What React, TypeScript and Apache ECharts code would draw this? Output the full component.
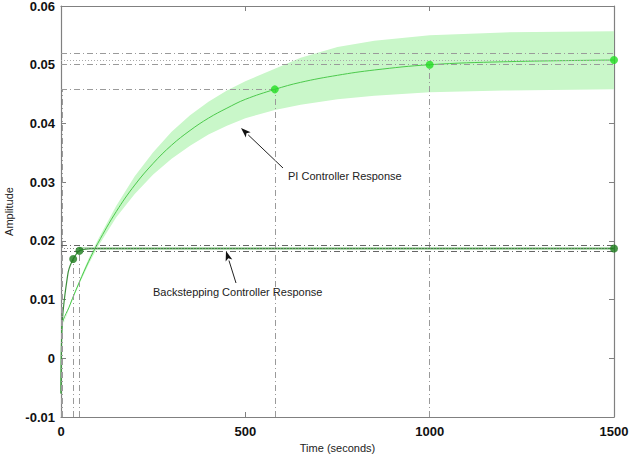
import React, { useEffect, useRef } from "react";
import * as echarts from "echarts";

// ---- data ----
const piTime = [0, 2, 25, 50, 75, 100, 150, 200, 250, 300, 350, 400, 450, 500, 580, 650, 750, 850, 1000, 1200, 1500];
const piValue = [-0.006, 0.005, 0.0092, 0.013, 0.0165, 0.0196, 0.025, 0.0295, 0.0332, 0.0363, 0.0388, 0.0409, 0.0426, 0.0441, 0.0458, 0.047, 0.0482, 0.0491, 0.05, 0.0505, 0.0508];
const piLower = [-0.006, 0.005, 0.009, 0.0127, 0.016, 0.019, 0.024, 0.028, 0.0313, 0.034, 0.0362, 0.0381, 0.0396, 0.0409, 0.0423, 0.0432, 0.0441, 0.0447, 0.0453, 0.0456, 0.0458];
const piUpper = [-0.006, 0.005, 0.0094, 0.0133, 0.017, 0.0202, 0.026, 0.031, 0.0351, 0.0386, 0.0414, 0.0437, 0.0456, 0.0472, 0.0493, 0.0512, 0.053, 0.0541, 0.055, 0.0555, 0.0557];

const bsTime = [0, 2, 5, 10, 15, 20, 25, 33, 40, 50, 60, 80, 100, 1500];
const bsValue = [-0.006, 0.004, 0.0075, 0.0105, 0.0128, 0.0148, 0.0158, 0.0169, 0.0176, 0.0183, 0.0185, 0.0187, 0.0187, 0.0187];
const bsSteadyTime = [50, 1500];
const bsSteadyValue = [0.0187, 0.0187];

const piMarkTime = [580, 1000, 1500];
const piMarkValue = [0.0458, 0.05, 0.0508];
const bsMarkTime = [33, 50, 1500];
const bsMarkValue = [0.0169, 0.0183, 0.0187];

// reference levels (settling band, steady state, rise time)
const piBandLevels = [0.052, 0.05];
const piSteady = 0.0508;
const piRiseLevel = 0.0458;
const piRiseTimes = [4, 580];
const piSettleTime = 1000;
const bsBandLevels = [0.0192, 0.0182];
const bsSteady = 0.0187;
const bsRiseTimes = [2, 33];
const bsSettleTime = 50;

const xTicks = [0, 500, 1000, 1500];
const yMin = -0.01;
const yMax = 0.06;

const DASHDOT = [6, 3, 1, 3];

function arrow(x1: number, y1: number, x2: number, y2: number) {
  const dx = x2 - x1;
  const dy = y2 - y1;
  const len = Math.sqrt(dx * dx + dy * dy);
  const ux = dx / len;
  const uy = dy / len;
  const hl = 10;
  const hw = 3.5;
  const bx = x2 - ux * hl;
  const by = y2 - uy * hl;
  const px = -uy;
  const py = ux;
  return [
    {
      type: "line",
      shape: { x1, y1, x2: bx, y2: by },
      style: { stroke: "#222", lineWidth: 1 },
      silent: true,
    },
    {
      type: "polygon",
      shape: {
        points: [
          [x2, y2],
          [bx + px * hw, by + py * hw],
          [bx + ux * 2.5, by + uy * 2.5],
          [bx - px * hw, by - py * hw],
        ],
      },
      style: { fill: "#111" },
      silent: true,
    },
  ];
}

export default function App() {
  const ref = useRef<HTMLDivElement>(null);

  useEffect(() => {
    if (!ref.current) return;
    const chart = echarts.init(ref.current, undefined, { renderer: "svg" });

    const seg = (a: number[], b: number[], color: string, dotted = false) => [
      { coord: a, lineStyle: { color, type: dotted ? [1, 2] : DASHDOT, width: 1 } },
      { coord: b },
    ];

    const piLines: any[] = [
      ...piBandLevels.map((v) => seg([0, v], [1500, v], "#9a9a9a")),
      seg([0, piSteady], [1500, piSteady], "#aaaaaa", true),
      seg([0, piRiseLevel], [piRiseTimes[1], piRiseLevel], "#9a9a9a"),
      ...piRiseTimes.map((t) => seg([t, yMin], [t, piRiseLevel], "#9a9a9a")),
      seg([piSettleTime, yMin], [piSettleTime, piBandLevels[1]], "#9a9a9a"),
    ];
    const bsLines: any[] = [
      ...bsBandLevels.map((v) => seg([0, v], [1500, v], "#666666")),
      seg([0, bsSteady], [1500, bsSteady], "#888888", true),
      seg([bsRiseTimes[0], yMin], [bsRiseTimes[0], bsBandLevels[1]], "#9a9a9a"),
      seg([bsRiseTimes[1], yMin], [bsRiseTimes[1], bsMarkValue[0]], "#9a9a9a"),
      seg([bsSettleTime, yMin], [bsSettleTime, bsMarkValue[1]], "#9a9a9a"),
    ];

    const font = "Liberation Sans, Arial, sans-serif";

    const axisLineStyle = { color: "#808080", width: 1.2 };

    chart.setOption({
      animation: false,
      grid: {
        left: 61,
        right: 15,
        top: 6,
        bottom: 44,
        show: false,
        containLabel: false,
        outerBoundsMode: "none",
      },
      xAxis: [
        {
          type: "value",
          min: 0,
          max: 1500,
          interval: 500,
          name: "Time (seconds)",
          nameLocation: "middle",
          nameGap: 23,
          nameTextStyle: { fontFamily: font, fontSize: 11, color: "#222" },
          axisLine: { show: true, onZero: false, lineStyle: axisLineStyle },
          axisTick: { show: true, inside: true, length: 5, lineStyle: { color: "#808080" } },
          axisLabel: {
            fontFamily: font,
            fontSize: 13,
            fontWeight: "bold",
            color: "#111",
            margin: 8,
            formatter: (v: number) => (xTicks.includes(v) ? String(v) : ""),
          },
          splitLine: { show: false },
        },
        {
          type: "value",
          position: "top",
          min: 0,
          max: 1500,
          interval: 500,
          axisLine: { show: true, onZero: false, lineStyle: axisLineStyle },
          axisTick: { show: true, inside: true, length: 5, lineStyle: { color: "#808080" } },
          axisLabel: { show: false },
          splitLine: { show: false },
        },
      ],
      yAxis: [
        {
          type: "value",
          min: yMin,
          max: yMax,
          interval: 0.01,
          name: "Amplitude",
          nameLocation: "middle",
          nameGap: 46,
          nameTextStyle: { fontFamily: font, fontSize: 11, color: "#222" },
          axisLine: { show: true, onZero: false, lineStyle: axisLineStyle },
          axisTick: { show: true, inside: true, length: 5, lineStyle: { color: "#808080" } },
          axisLabel: {
            fontFamily: font,
            fontSize: 13,
            fontWeight: "bold",
            color: "#111",
            margin: 6,
            formatter: (v: number) => String(Math.round(v * 100) / 100),
          },
          splitLine: { show: false },
        },
        {
          type: "value",
          position: "right",
          min: yMin,
          max: yMax,
          interval: 0.01,
          axisLine: { show: true, onZero: false, lineStyle: axisLineStyle },
          axisTick: { show: true, inside: true, length: 5, lineStyle: { color: "#808080" } },
          axisLabel: { show: false },
          splitLine: { show: false },
        },
      ],
      series: [
        {
          type: "custom",
          name: "piBand",
          data: piTime.map((t, i) => [t, piValue[i]]),
          encode: { x: 0, y: 1 },
          silent: true,
          clip: true,
          z: 1,
          renderItem: (params: any, api: any) => {
            if (params.dataIndex !== 0) return null;
            const pts: number[][] = [];
            for (let i = 0; i < piTime.length; i++) pts.push(api.coord([piTime[i], piUpper[i]]));
            for (let i = piTime.length - 1; i >= 0; i--) pts.push(api.coord([piTime[i], piLower[i]]));
            return {
              type: "polygon",
              shape: { points: pts },
              style: { fill: "#c9f7c9", stroke: "none" },
            };
          },
        },
        {
          type: "line",
          name: "refs",
          data: [],
          markLine: {
            silent: true,
            symbol: "none",
            label: { show: false },
            data: [...piLines, ...bsLines],
          },
          z: 2,
        },
        {
          type: "line",
          name: "bsSteady",
          data: bsSteadyTime.map((t, i) => [t, bsSteadyValue[i]]),
          symbol: "none",
          lineStyle: { color: "#b3dcb3", width: 3 },
          z: 3,
        },
        {
          type: "line",
          name: "PI Controller Response",
          data: piTime.map((t, i) => [t, piValue[i]]),
          symbol: "none",
          smooth: 0.4,
          lineStyle: { color: "#4cc94c", width: 1 },
          z: 4,
        },
        {
          type: "line",
          name: "Backstepping Controller Response",
          data: bsTime.map((t, i) => [t, bsValue[i]]),
          symbol: "none",
          smooth: 0.3,
          lineStyle: { color: "#3f8f3f", width: 1.2 },
          z: 4,
        },
        {
          type: "scatter",
          name: "piMarks",
          data: piMarkTime.map((t, i) => [t, piMarkValue[i]]),
          symbolSize: 8,
          itemStyle: { color: "#22dd22" },
          z: 5,
        },
        {
          type: "scatter",
          name: "bsMarks",
          data: bsMarkTime.map((t, i) => [t, bsMarkValue[i]]),
          symbolSize: 8,
          itemStyle: { color: "#1a7a1a" },
          z: 5,
        },
      ],
      graphic: [
        ...arrow(283, 168, 241, 128),
        {
          type: "text",
          x: 288,
          y: 176,
          style: {
            text: "PI Controller Response",
            font: `11px ${font}`,
            fill: "#222",
            verticalAlign: "middle",
          },
          silent: true,
        },
        ...arrow(236, 283, 226, 251),
        {
          type: "text",
          x: 153,
          y: 292,
          style: {
            text: "Backstepping Controller Response",
            font: `11px ${font}`,
            fill: "#222",
            verticalAlign: "middle",
          },
          silent: true,
        },
      ],
    });

    return () => chart.dispose();
  }, []);

  return <div ref={ref} style={{ width: 629, height: 461, position: "absolute", left: 0, top: 0 }} />;
}
